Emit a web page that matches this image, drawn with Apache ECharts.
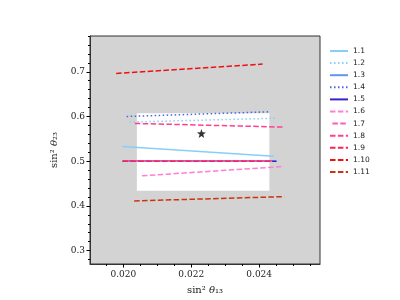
<!DOCTYPE html>
<html><head><meta charset="utf-8">
<script src="https://cdn.jsdelivr.net/npm/echarts@6/dist/echarts.min.js"></script>
<style>html,body{margin:0;padding:0;background:#fff}#c{width:400px;height:300px}</style>
</head><body><div id="c"></div>
<script>
const names = ['1.1','1.2','1.3','1.4','1.5','1.6','1.7','1.8','1.9','1.10','1.11'];
const xStart = [0.01997,0.02018,0.01998,0.02010,0.01998,0.02055,0.01998,0.02034,0.01998,0.01979,0.02032];
const xEnd   = [0.02443,0.02449,0.02451,0.02429,0.02451,0.02473,0.02438,0.02473,0.02438,0.02410,0.02474];
const yStart = [0.5327,0.5874,0.500,0.600,0.500,0.4673,0.500,0.5844,0.500,0.6963,0.4111];
const yEnd   = [0.5111,0.5962,0.500,0.6104,0.500,0.4882,0.500,0.5762,0.500,0.7171,0.4207];
const colors = ['#87cefa','#87cefa','#6495ed','#4169e1','#3a22c8','#ff7fd4','#ff5cb8','#ff4090','#ff2255','#ee1111','#cc3311'];
const styles = ['solid','dotted','solid','dotted','solid','dashed','dashed','dashed','dashed','dashed','dashed'];
const bestFit = [0.0223, 0.562];
const allowedBox = [[0.0204, 0.607],[0.0243, 0.434]];
const xMajor = [0.020, 0.022, 0.024];
const yMajor = [0.3, 0.4, 0.5, 0.6, 0.7];
const xMinor = [0.0190,0.0195,0.0200,0.0205,0.0210,0.0215,0.0220,0.0225,0.0230,0.0235,0.0240,0.0245,0.0250,0.0255];
const yMinor = [0.28,0.30,0.32,0.34,0.36,0.38,0.40,0.42,0.44,0.46,0.48,0.50,0.52,0.54,0.56,0.58,0.60,0.62,0.64,0.66,0.68,0.70,0.72,0.74,0.76,0.78];

const serif = 'DejaVu Serif';
const XMIN=0.01902, XMAX=0.02579, YMIN=0.27, YMAX=0.78;

function dashOf(s){ if(s==='dashed') return [5.5,2.4]; if(s==='dotted') return [1.5,2.5]; return 'solid'; }

const series = names.map((n,i)=>({
  name:n, type:'line', symbol:'none', silent:true, animation:false,
  data:[[xStart[i],yStart[i]],[xEnd[i],yEnd[i]]],
  lineStyle:{color:colors[i], width:1.5, type:dashOf(styles[i]), dashOffset:(n==='1.7'?5.5:0)},
  itemStyle:{color:colors[i]}, z:3+i
}));
series.unshift({
  type:'scatter', data:[], silent:true, animation:false,
  markArea:{silent:true, itemStyle:{color:'#ffffff'}, data:[[{coord:allowedBox[0]},{coord:allowedBox[1]}]]}, z:1
});
series.push({
  type:'scatter', data:[bestFit], symbol:'path://M0,-10 L2.35,-3.24 L9.51,-3.09 L3.8,1.24 L5.88,8.09 L0,4 L-5.88,8.09 L-3.8,1.24 L-9.51,-3.09 L-2.35,-3.24 Z',
  symbolSize:9, itemStyle:{color:'#000'}, silent:true, animation:false, z:20
});

const chart = echarts.init(document.getElementById('c'), null, {renderer:'canvas'});
chart.setOption({
  animation:false,
  grid:{left:90, right:80, top:36, bottom:33, show:true, backgroundColor:'#d3d3d3', borderColor:'#333', borderWidth:1},
  legend:{
    orient:'vertical', left:324, top:42, itemWidth:18, itemHeight:8, itemGap:4.1,
    data:names, textStyle:{fontFamily:'DejaVu Sans', fontSize:7.5, color:'#222'}, selectedMode:false,
    itemStyle:{opacity:0}
  },
  xAxis:[{
    type:'value', min:XMIN, max:XMAX, splitLine:{show:false},
    axisLine:{show:true, onZero:false, lineStyle:{color:'#333'}},
    axisTick:{show:true, customValues:xMajor, length:3.5, lineStyle:{color:'#000'}},
    axisLabel:{customValues:xMajor, formatter:v=>v.toFixed(3), fontFamily:serif, fontSize:9, color:'#222', margin:6},
    name:'{n|sin² }{i|θ}{n|₁₃}', nameLocation:'middle', nameGap:21,
    nameTextStyle:{rich:{n:{fontFamily:serif, fontSize:10, color:'#222'}, i:{fontFamily:serif, fontStyle:'italic', fontSize:10, color:'#222'}}}
  },{
    type:'value', min:XMIN, max:XMAX, position:'bottom', splitLine:{show:false},
    axisLine:{show:false}, axisLabel:{show:false},
    axisTick:{show:true, customValues:xMinor, length:2, lineStyle:{color:'#000'}}
  }],
  yAxis:[{
    type:'value', min:YMIN, max:YMAX, splitLine:{show:false},
    axisLine:{show:true, onZero:false, lineStyle:{color:'#333'}},
    axisTick:{show:true, customValues:yMajor, length:3.5, lineStyle:{color:'#000'}},
    axisLabel:{customValues:yMajor, formatter:v=>v.toFixed(1), fontFamily:serif, fontSize:9, color:'#222', margin:5},
    name:'{n|sin² }{i|θ}{n|₂₃}', nameLocation:'middle', nameGap:31, nameRotate:90,
    nameTextStyle:{rich:{n:{fontFamily:serif, fontSize:10, color:'#222'}, i:{fontFamily:serif, fontStyle:'italic', fontSize:10, color:'#222'}}}
  },{
    type:'value', min:YMIN, max:YMAX, position:'left', splitLine:{show:false},
    axisLine:{show:false}, axisLabel:{show:false},
    axisTick:{show:true, customValues:yMinor, length:2, lineStyle:{color:'#000'}}
  }],
  series:series
});
</script></body></html>
